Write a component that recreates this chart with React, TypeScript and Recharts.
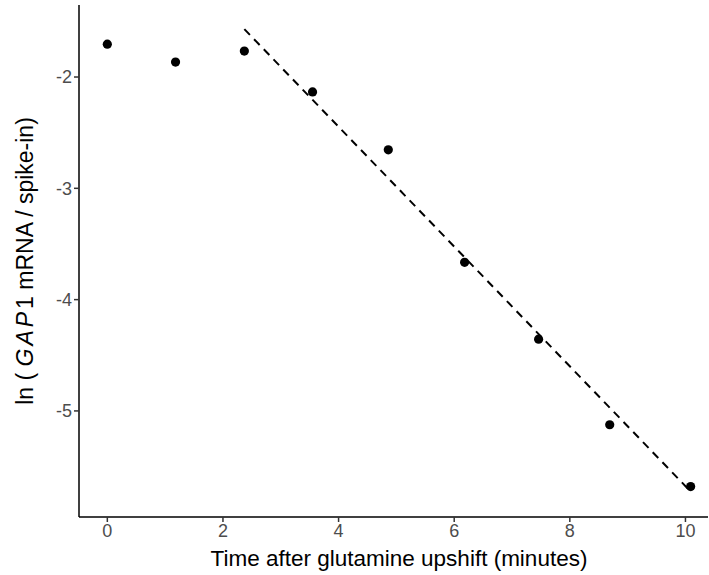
import React from "react";
import { ComposedChart, Scatter, Line, XAxis, YAxis } from "recharts";

const timeMinutes = [0, 1.18, 2.37, 3.55, 4.86, 6.18, 7.46, 8.69, 10.09];
const lnGap1 = [-1.705, -1.866, -1.767, -2.134, -2.654, -3.665, -4.355, -5.124, -5.68];
const fitX = [2.37, 10.09];
const fitY = [-1.57, -5.724];
const xTicks = [0, 2, 4, 6, 8, 10];
const yTicks = [-5, -4, -3, -2];

const points = timeMinutes.map((x, i) => ({ x, y: lnGap1[i] }));
const fitLine = fitX.map((x, i) => ({ x, y: fitY[i] }));

const FONT = "'Liberation Sans', Arial, sans-serif";

const YLabel = (props: any) => {
  const vb = props.viewBox || {};
  const cx = 25;
  const cy = vb.y + vb.height / 2;
  return (
    <text
      x={cx}
      y={cy}
      transform={`rotate(-90, ${cx}, ${cy})`}
      textAnchor="middle"
      dominantBaseline="central"
      fontFamily={FONT}
      fontSize={23}
      fill="#000"
    >
      <tspan>ln (  </tspan>
      <tspan fontStyle="italic" letterSpacing={3}>GAP</tspan>
      <tspan>1 mRNA / spike-in)</tspan>
    </text>
  );
};

const XLabel = () => (
  <text
    x={399}
    y={566}
    textAnchor="middle"
    fontFamily={FONT}
    fontSize={22.5}
    fill="#000"
  >
    Time after glutamine upshift (minutes)
  </text>
);

export default function App() {
  return (
    <div style={{ position: "absolute", top: 0, left: 0, width: 709, height: 575, background: "#fff" }}>
      <ComposedChart
        width={709}
        height={575}
        margin={{ top: 5, right: 1, bottom: 0, left: 0 }}
      >
        <XAxis
          type="number"
          dataKey="x"
          domain={[-0.49, 10.39]}
          ticks={xTicks}
          allowDataOverflow
          height={58}
          stroke="#000"
          strokeWidth={1.5}
          tickSize={5}
          tick={{ fill: "#4d4d4d", fontSize: 18, fontFamily: FONT }}
          tickLine={{ stroke: "#333", strokeWidth: 1.5 }}
          label={<XLabel />}
        />
        <YAxis
          type="number"
          dataKey="y"
          domain={[-5.953, -1.353]}
          ticks={yTicks}
          allowDataOverflow
          width={79}
          stroke="#000"
          strokeWidth={1.5}
          tickSize={5}
          tick={{ fill: "#4d4d4d", fontSize: 18, fontFamily: FONT }}
          tickLine={{ stroke: "#333", strokeWidth: 1.5 }}
          label={<YLabel />}
        />
        <Line
          data={fitLine}
          dataKey="y"
          type="linear"
          stroke="#000"
          strokeWidth={2}
          strokeDasharray="8 6"
          dot={false}
          activeDot={false}
          isAnimationActive={false}
        />
        <Scatter
          data={points}
          dataKey="y"
          fill="#000"
          shape={(p: any) => <circle cx={p.cx} cy={p.cy} r={4.6} fill="#000" />}
          isAnimationActive={false}
        />
      </ComposedChart>
    </div>
  );
}
